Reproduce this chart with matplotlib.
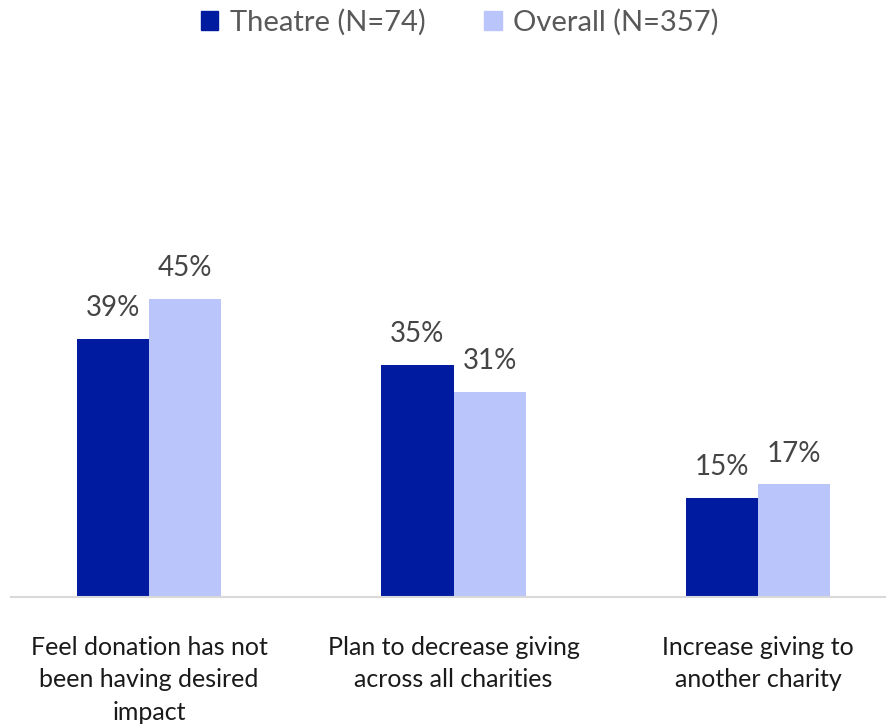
import matplotlib
matplotlib.use("Agg")
import matplotlib.pyplot as plt
import numpy as np
from matplotlib.patches import Patch

plt.rcParams['font.family'] = ['Lato', 'DejaVu Sans']

categories = ["Feel donation has not\nbeen having desired\nimpact",
              "Plan to decrease giving\nacross all charities",
              "Increase giving to\nanother charity"]
theatre = [39, 35, 15]
overall = [45, 31, 17]
series_names = ["Theatre (N=74)", "Overall (N=357)"]
colors = ["#001BA0", "#BAC5FC"]
text_color = "#595959"
value_color = "#454545"
cat_color = "#1A1A1A"

fig = plt.figure(figsize=(8.86, 7.28), dpi=100)
ax = fig.add_axes([11/886, 131/728, 875/886, 0.55])

x = np.arange(len(categories))
w = 0.237
b1 = ax.bar(x - w/2, theatre, w, color=colors[0], label=series_names[0])
b2 = ax.bar(x + w/2, overall, w, color=colors[1], label=series_names[1])

for bars, vals in ((b1, theatre), (b2, overall)):
    for r, v in zip(bars, vals):
        ax.text(r.get_x() + r.get_width()/2, v + 2.7, f"{v}%", ha="center", va="bottom",
                fontsize=20, color=value_color)

ax.set_xlim(-0.453, 2.42)
ax.set_ylim(0, 60.5)
for s in ["top", "right", "left"]:
    ax.spines[s].set_visible(False)
ax.spines["bottom"].set_color("#D9D9D9")
ax.spines["bottom"].set_linewidth(1.5)
ax.set_yticks([])
ax.set_xticks(x)
ax.set_xticklabels(categories, fontsize=18, color=cat_color, linespacing=1.5)
ax.tick_params(axis="x", length=0, pad=28)

handles = [Patch(color=colors[0]), Patch(color=colors[1])]
fig.legend(handles, series_names, loc="upper center", bbox_to_anchor=(0.519, 1.024), ncol=2,
           frameon=False, fontsize=21, labelcolor=text_color, handlelength=0.6,
           handleheight=0.6, handletextpad=0.4, columnspacing=2.0)

fig.savefig("out.png", dpi=100)
